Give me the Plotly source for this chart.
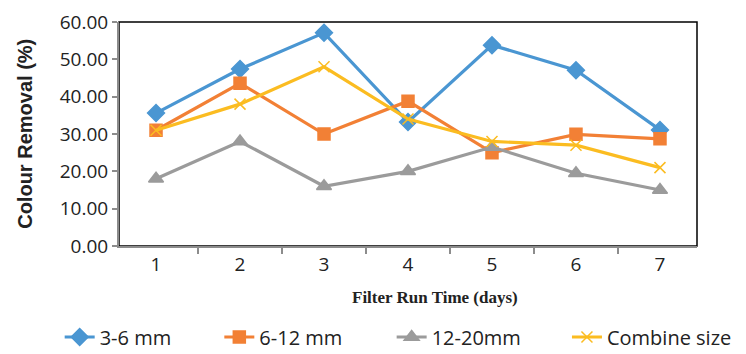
import plotly.graph_objects as go

days = ["1", "2", "3", "4", "5", "6", "7"]
s_3_6 = [35.6, 47.4, 57.1, 33.2, 53.8, 47.1, 31.1]
s_6_12 = [31.0, 43.6, 30.0, 38.8, 25.0, 29.9, 28.7]
s_12_20 = [18.0, 28.0, 16.0, 20.0, 26.5, 19.5, 15.0]
s_comb = [31.0, 38.0, 48.0, 34.0, 28.0, 27.0, 21.0]
y_ticks = [0, 10, 20, 30, 40, 50, 60]

series = [
    ("3-6 mm", s_3_6, "#4a96d2", "diamond", 13, "legend", 0.080),
    ("6-12 mm", s_6_12, "#f28035", "square", 12, "legend2", 0.294),
    ("12-20mm", s_12_20, "#9b9b9b", "triangle-up", 13, "legend3", 0.525),
    ("Combine size", s_comb, "#fbbc21", "x-thin", 11, "legend4", 0.760),
]

fig = go.Figure()
legends = {}
for name, vals, color, sym, size, lg, lx in series:
    fig.add_trace(go.Scatter(
        x=days, y=vals, name=name, mode="lines+markers",
        line=dict(color=color, width=3.2),
        marker=dict(symbol=sym, size=size, color=color,
                    line=dict(color=color, width=1.5)),
        legend=lg,
    ))
    legends[lg] = dict(orientation="h", xref="container", yref="container",
                       x=lx, xanchor="left", y=0.048, yanchor="middle",
                       font=dict(size=20), bgcolor="rgba(0,0,0,0)")

fig.add_shape(type="rect", xref="paper", yref="paper", x0=0, x1=1, y0=0, y1=1,
              line=dict(color="black", width=1.5), layer="below")

fig.update_layout(
    width=746, height=354,
    margin=dict(l=119, r=49, t=22, b=108, autoexpand=False),
    paper_bgcolor="white", plot_bgcolor="white",
    font=dict(family="Open Sans, Noto Sans, sans-serif", color="#222222", size=19),
    showlegend=True,
    **legends,
    xaxis=dict(type="category", showline=True, linecolor="#8c8c8c", linewidth=2,
               ticks="outside", tickson="boundaries", ticklen=6, tickcolor="#8c8c8c",
               tickwidth=1.5, showgrid=False, tickfont=dict(size=19), automargin=False),
    yaxis=dict(range=[0, 60], tickvals=y_ticks, tickformat=".2f", showline=True,
               linecolor="#8c8c8c", linewidth=2, ticks="outside", ticklen=5,
               tickcolor="#8c8c8c", tickwidth=1.5, showgrid=False,
               tickfont=dict(size=19), automargin=False),
    annotations=[
        dict(text="<b>Filter Run Time (days)</b>", xref="paper", yref="paper",
             x=0.547, y=-0.232, xanchor="center", yanchor="middle", showarrow=False,
             font=dict(family="Liberation Serif, Times New Roman, serif", size=17, color="#222222")),
        dict(text="<b>Colour Removal (%)</b>", xref="paper", yref="paper",
             x=-0.163, y=0.5, xanchor="center", yanchor="middle", showarrow=False,
             textangle=-90,
             font=dict(family="Liberation Sans, Arial, sans-serif", size=20, color="#222222")),
    ],
)

fig.write_html("out.html")
